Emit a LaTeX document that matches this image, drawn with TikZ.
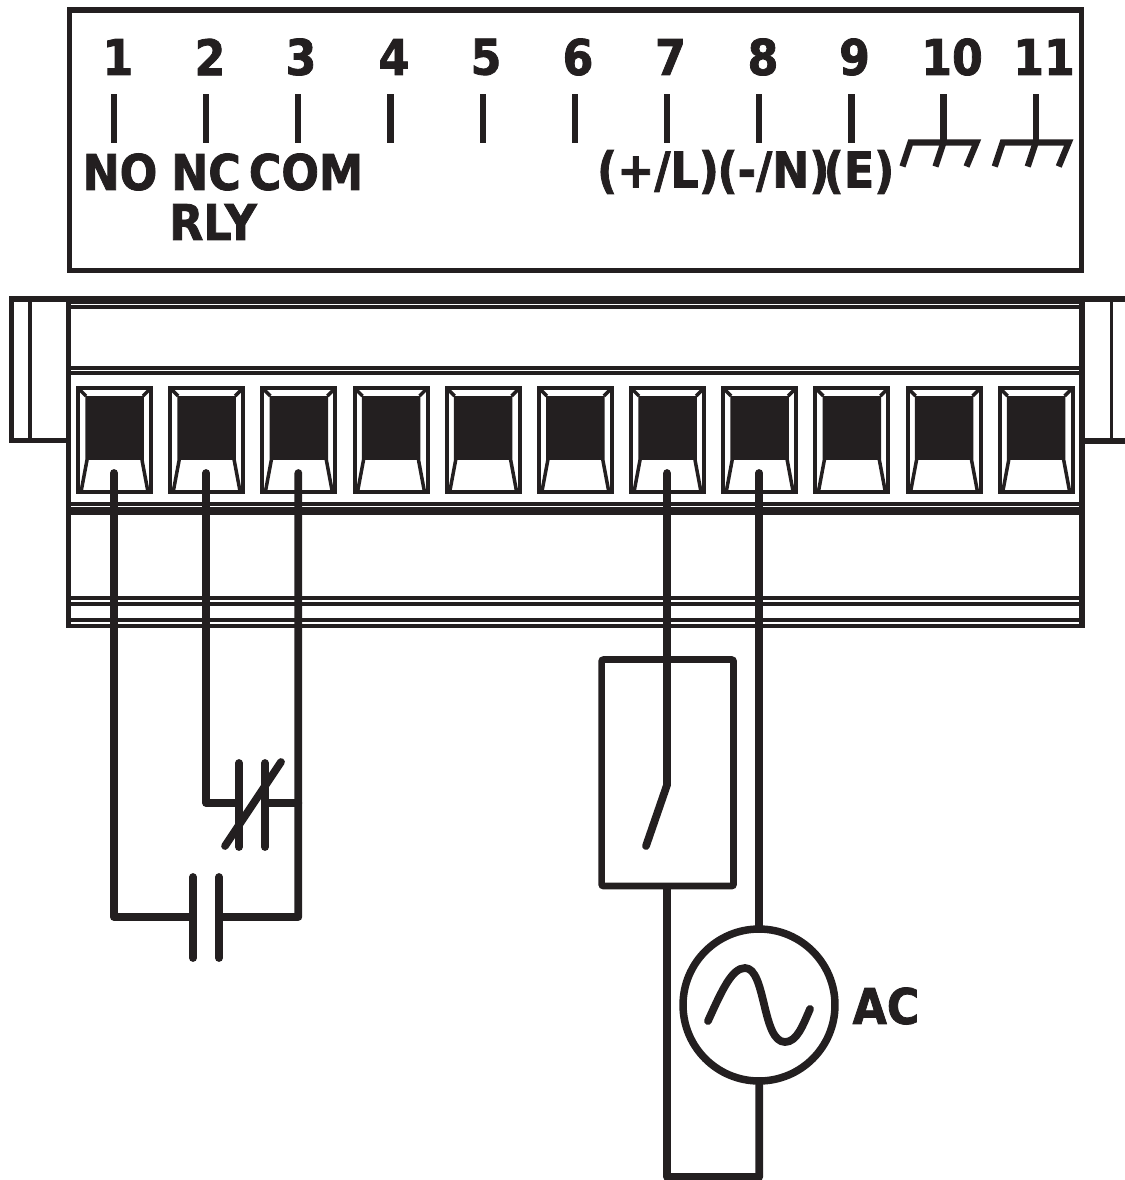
\documentclass[tikz,border=0pt]{standalone}
\usepackage{fontspec}
\setmainfont{DejaVu Sans}[FakeStretch=0.9,BoldFeatures={FakeBold=1.6}]
\definecolor{inkblack}{HTML}{231F20}
\tikzset{
	thick line/.style={line width=0.11cm,color=inkblack},
	tick line/.style={line width=0.125cm,color=inkblack},
	wire/.style={line width=0.155cm,color=inkblack,line cap=round,line join=round},
	body line/.style={line width=0.09cm,color=inkblack},
	term label/.style={font=\fontsize{28}{28}\selectfont\bfseries,color=inkblack,inner sep=0pt},
}
\begin{document}
\begin{tikzpicture}[x=0.02cm,y=-0.02cm]
	\useasboundingbox (0,0) rectangle (1125,1180);
	\clip (0,0) rectangle (1125,1180);

	\draw[thick line] (69.5,10) rectangle (1081.5,270.5);

	\foreach \n/\x/\lx in {1/114/118,2/206.2/210,3/298.3/301,4/390.5/394,5/482.7/486,6/574.9/578,7/667/670.5,8/759.2/763,9/851.4/854.5,10/943.5/952,11/1035.7/1044}{
		\coordinate (top\n) at (\x,94);
		\coordinate (tick\n) at (\x,142.5);
		\node[term label] (num\n) at (\lx,57) {\n};
		\draw[tick line] (top\n) -- (tick\n);
	}
	\node[term label] (no) at (120,172) {NO};
	\node[term label] (nc) at (206,172) {NC};
	\node[term label] (com) at (306,172) {COM};
	\node[term label] (rly) at (213,222) {RLY};
	\node[term label] (plusl) at (658,172) {(+/L)};
	\node[term label] (minusn) at (773.5,172) {(-/N)};
	\node[term label] (earth) at (859,172) {(E)};

	\foreach \n in {10,11}{
		\draw[tick line] ([xshift=-0.66cm]tick\n) ++(-8,24) -- ++(8,-24) -- ++(66,0) -- ++(-10,24);
		\draw[tick line] (tick\n) -- ++(-8,24);
	}

	% connector body
	\draw[line width=0.12cm,color=inkblack] (9,299) -- (1125,299);
	\draw[line width=0.16cm,color=inkblack] (68,300) -- (1084,300);
	\draw[line width=0.08cm,color=inkblack] (68,307.2) -- (1084,307.2);
	\draw[line width=0.1cm,color=inkblack] (68.5,300) -- (68.5,628);
	\draw[line width=0.11cm,color=inkblack] (1082,300) -- (1082,628);
	\draw[body line] (66,620) -- (1085,620);
	\draw[body line] (66,626) -- (1085,626);
	\foreach \y in {368,373,504,509,513,598,604}{
		\draw[body line] (68,\y) -- (1083,\y);
	}
	\draw[line width=0.1cm,color=inkblack] (68,299) -- (11.5,299) -- (11.5,440.5) -- (68,440.5);
	\draw[line width=0.08cm,color=inkblack] (30,299) -- (30,440);
	\draw[line width=0.11cm,color=inkblack] (1082,441) -- (1125,441);
	\draw[line width=0.07cm,color=inkblack] (1111.5,299) -- (1111.5,440);

	\foreach \n in {1,...,11}{
		\begin{scope}[shift={({(\n-1)*92.17},0)}]
			\draw[line width=0.08cm,color=inkblack] (78,388) rectangle (151,492);
			\fill[inkblack] (86,396) rectangle (143,460);
			\draw[line width=0.07cm,color=inkblack] (78,388) -- (86,396) (151,388) -- (143,396);
			\draw[line width=0.07cm,color=inkblack] (87,396) -- (87,460) -- (81,492) (142,396) -- (142,460) -- (148,492);
			\coordinate (slot\n) at (114,473);
		\end{scope}
	}

	% relay wiring
	\coordinate (ncplatea) at (239,803);
	\coordinate (ncplateb) at (265,803);
	\coordinate (noplatea) at (193,917);
	\coordinate (noplateb) at (219,917);
	\coordinate (comcorner) at (298.3,917);
	\draw[wire] (slot1) -- (slot1 |- noplatea) -- (noplatea);
	\draw[wire] (slot2) -- (slot2 |- ncplatea) -- (ncplatea);
	\draw[wire] (slot3) -- (comcorner) -- (noplateb);
	\draw[wire] (ncplateb) -- (slot3 |- ncplateb);
	\draw[wire] (239,763) -- (239,847);
	\draw[wire] (265,763) -- (265,847);
	\draw[wire] (225,846) -- (281,762);
	\draw[wire] (193,877) -- (193,958);
	\draw[wire] (219,877) -- (219,958);

	% supply wiring
	\node[draw=inkblack,line width=0.134cm,rounded corners=0.04cm,minimum width=2.64cm,minimum height=4.53cm,inner sep=0pt] (switchbox) at (667.6,772.8) {};
	\node[draw=inkblack,line width=0.15cm,circle,minimum size=3.04cm,inner sep=0pt] (source) at (759,1005) {};
	\coordinate (swpivot) at (667,785);
	\coordinate (swblade) at (646,846);
	\coordinate (loopa) at (667,1177);
	\coordinate (loopb) at (759.2,1177);
	\draw[wire] (slot7) -- (swpivot) -- (swblade);
	\draw[wire] (slot8) -- (slot8 |- source.north);
	\draw[wire] (slot7 |- switchbox.south) -- (loopa) -- (loopb) -- (slot8 |- source.south);
	\draw[wire] (708,1021) .. controls (722,990) and (732,968) .. (745,968) .. controls (766,968) and (762,1042) .. (785,1042) .. controls (797,1042) and (803,1025) .. (810,1009);
	\node[term label] (ac) at (886,1006) {AC};
\end{tikzpicture}
\end{document}
